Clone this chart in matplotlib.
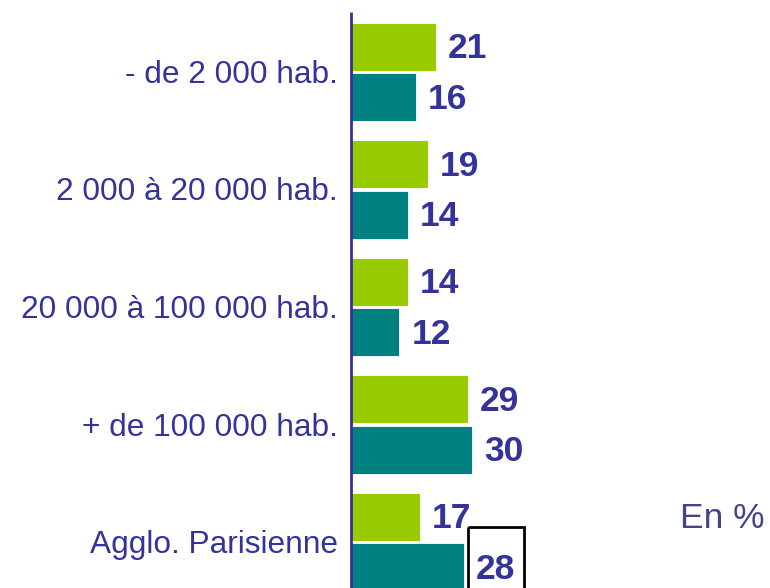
import matplotlib
matplotlib.use("Agg")
import matplotlib.pyplot as plt
from matplotlib.patches import Rectangle
import numpy as np

categories = ["- de 2 000 hab.", "2 000 à 20 000 hab.", "20 000 à 100 000 hab.",
              "+ de 100 000 hab.", "Agglo. Parisienne"]
series_a = [21, 19, 14, 29, 17]
series_b = [16, 14, 12, 30, 28]

green = "#99CC00"
teal = "#008080"
navy = "#333399"

plt.rcParams['font.family'] = ['Liberation Sans', 'DejaVu Sans']

W, H = 770, 588
fig = plt.figure(figsize=(W / 100, H / 100), dpi=100)
ax = fig.add_axes([0, 0, 1, 1])

x0_px = 351.0
ppu = 4.04
ax.set_xlim(-x0_px / ppu, (W - x0_px) / ppu)
spacing = 117.5
c0 = 72.0
ax.set_ylim((H - c0) / spacing, -c0 / spacing)
ax.axis('off')

def ypx(p):
    return (p - c0) / spacing

y = np.arange(len(categories))
h = 0.41
off = 0.215
ax.barh(y - off, series_a, height=h, color=green, edgecolor='white', linewidth=0.6)
ax.barh(y + off, series_b, height=h, color=teal, edgecolor='white', linewidth=0.6)

# axis line
ax.plot([0, 0], [ypx(12), ypx(H + 5)], color=navy, lw=2, solid_capstyle='butt')

dy_cat = 3 / spacing
dy_val = 2 / spacing
for i, cat in enumerate(categories):
    ax.text(-13 / ppu, i + dy_cat, cat, ha='right', va='center', fontsize=22.8, color=navy)

for i, v in enumerate(series_a):
    ax.text(v + 12 / ppu, i - off + dy_val, str(v), ha='left', va='center', fontsize=25.5,
            fontweight='bold', color=navy)
for i, v in enumerate(series_b):
    ax.text(v + 12 / ppu, i + off + dy_val, str(v), ha='left', va='center', fontsize=25.5,
            fontweight='bold', color=navy)

# box around the last value
last = len(series_b) - 1
bx0 = series_b[last] + 4 / ppu
ax.add_patch(Rectangle((bx0, ypx(527)), 56 / ppu, ypx(600) - ypx(527),
                       fill=False, ec='black', lw=2, zorder=5))

fig.text(680 / W, 1 - 518 / H, "En %", ha='left', va='center', fontsize=25.5, color="#444488")

fig.savefig("out.png", dpi=100)
